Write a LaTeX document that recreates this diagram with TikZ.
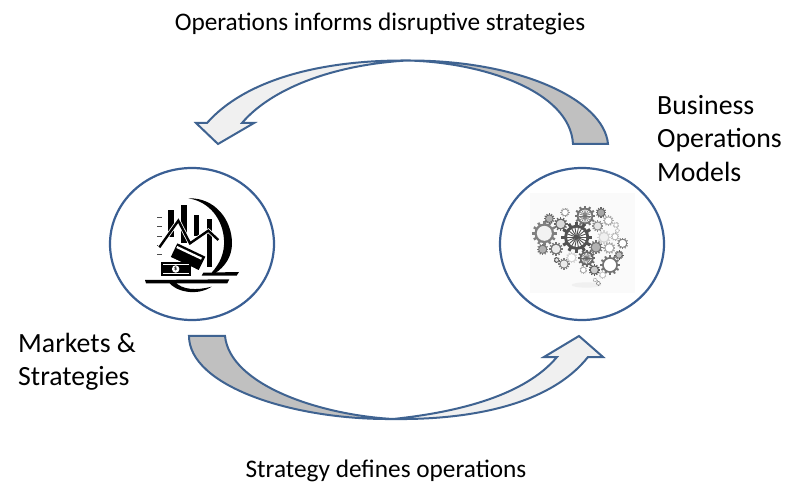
\documentclass[tikz,border=0pt]{standalone}
\usepackage{fontspec}
\setmainfont{Carlito}
\usetikzlibrary{shapes.geometric}
\definecolor{edgeblue}{HTML}{3F6391}
\definecolor{ringblue}{HTML}{3A5F94}
\definecolor{tailgrey}{HTML}{C0C0C0}
\definecolor{headgrey}{HTML}{F0F0F0}
% cx, cy, radius, gear colour, centre colour
\newcommand{\cogwheel}[5]{%
  \begin{scope}[shift={(#1,#2)}]
    \foreach \a in {0,30,...,330}
      \draw[#4,line width=#3*0.075pt] (\a:#3*0.75) -- (\a:#3*1.14);
    \fill[#4] (0,0) circle[radius=#3*0.92];
    \fill[#5] (0,0) circle[radius=#3*0.70];
  \end{scope}}
% the same, with spokes in the hub
\newcommand{\spokewheel}[4]{%
  \cogwheel{#1}{#2}{#3}{#4}{white}
  \begin{scope}[shift={(#1,#2)}]
    \foreach \a in {0,20,...,340}
      \draw[#4,line width=#3*0.022pt] (0,0) -- (\a:#3*0.72);
    \fill[#4] (0,0) circle[radius=#3*0.14];
  \end{scope}}
\tikzset{
  flowarrow/.style={draw=edgeblue,line width=2pt,line join=miter},
  loopcircle/.style={draw=ringblue,line width=2.2pt,ellipse,minimum width=164pt,minimum height=152pt,inner sep=0pt},
  caption/.style={font=\fontsize{25.3}{30}\selectfont,inner sep=0pt},
  sidelabel/.style={font=\fontsize{27.8}{33.4}\selectfont,inner sep=0pt,align=left,anchor=north west}
}
\begin{document}
\begin{tikzpicture}[x=1pt,y=-1pt]
\useasboundingbox (0,0) rectangle (800,502);
\fill[white] (0,0) rectangle (800,502);

% circles
\node[loopcircle] (markets) at (192,244) {};
\node[loopcircle] (business) at (582,244) {};

% top arrow
\fill[tailgrey] (608,144) .. controls (604,100) and (520,60) .. (407,60.5)
  .. controls (480,62) and (570,90) .. (573,144) -- cycle;
\fill[headgrey] (407,60.5) .. controls (320,60) and (245,80) .. (207,123) -- (196,123) -- (218,144) -- (254,123) -- (242,123)
  .. controls (270,90) and (330,65) .. (407,60.5) -- cycle;
\draw[flowarrow] (573,144) -- (608,144)
  .. controls (604,100) and (520,60) .. (407,60.5)
  .. controls (320,60) and (245,80) .. (207,123)
  -- (196,123) -- (218,144) -- (254,123) -- (242,123)
  .. controls (270,90) and (330,65) .. (407,60.5)
  .. controls (480,62) and (570,90) .. (573,144) -- cycle;

% bottom arrow
\fill[tailgrey] (189,336) .. controls (189,385) and (290,420) .. (393,419)
  .. controls (320,415) and (230,385) .. (225,336) -- cycle;
\fill[headgrey] (393,419) .. controls (470,420) and (550,405) .. (588,357) -- (603,357) -- (579,336) -- (544,357) -- (557,357)
  .. controls (525,395) and (460,412) .. (393,419) -- cycle;
\draw[flowarrow] (225,336) -- (189,336)
  .. controls (189,385) and (290,420) .. (393,419)
  .. controls (470,420) and (550,405) .. (588,357)
  -- (603,357) -- (579,336) -- (544,357) -- (557,357)
  .. controls (525,395) and (460,412) .. (393,419)
  .. controls (320,415) and (230,385) .. (225,336) -- cycle;

% finance icon, in 3x crop coordinates
\begin{scope}[shift={(100,160)},x=.33333pt,y=-.33333pt]
  \fill (265,115) .. controls (345,112) and (396,180) .. (396,250)
    .. controls (396,290) and (375,320) .. (345,340) -- (335,338)
    .. controls (360,310) and (374,280) .. (372,240)
    .. controls (369,180) and (330,125) .. (265,115) -- cycle;
  \fill (205,365) .. controls (225,395) and (290,410) .. (335,380)
    .. controls (290,392) and (245,390) .. (225,365) -- cycle;
  \fill (205,150) rectangle (222,232);
  \fill (243,135) rectangle (262,250);
  \fill (282,165) rectangle (298,228);
  \fill (320,178) rectangle (336,320);
  \foreach \yy in {173,201,229,257,285}
    \fill[black!70] (172,\yy-1.5) rectangle (186,\yy+1.5);
  \draw[white,line width=4pt] (178,262) -- (235,182) -- (270,250) -- (325,212) -- (355,240);
  \draw[black,line width=2.4pt] (178,262) -- (235,182) -- (270,250) -- (325,212) -- (355,240);
  % tilted banknotes
  \fill (232,250) -- (316,290) -- (296,330) -- (212,292) -- cycle;
  \fill[white] (232,258) -- (306,293) -- (303,299) -- (229,264) -- cycle;
  \fill[white] (205,288) -- (285,325) -- (290,332) -- (200,298) -- cycle;
  % flat banknote
  \fill (182,305) rectangle (272,347);
  \fill[white] (188,311) rectangle (266,314);
  \fill[white] (188,339) rectangle (266,342);
  \node[circle,fill=white,inner sep=0pt,minimum size=7.5pt,font=\fontsize{6}{6}\selectfont\bfseries] (dollar) at (227,327) {\$};
  \fill (135,360) -- (388,358) -- (382,370) -- (138,370) -- cycle;
  \fill (310,338) -- (417,336) -- (410,347) -- (305,347) -- cycle;
\end{scope}

% gear brain, in 3x crop coordinates
\begin{scope}[shift={(490,160)},x=.33333pt,y=-.33333pt]
  \fill[black!2] (120,100) rectangle (435,400);
  \fill[black!6] (290,375) ellipse[x radius=45,y radius=8];
  \cogwheel{163}{220}{32}{black!50}{black!5}
  \cogwheel{225}{157}{12}{black!40}{white}
  \cogwheel{178}{176}{14}{black!60}{black!30}
  \cogwheel{212}{192}{18}{black!60}{black!15}
  \cogwheel{333}{158}{14}{black!60}{black!35}
  \cogwheel{355}{182}{14}{black!35}{white}
  \cogwheel{323}{198}{15}{black!45}{black!10}
  \cogwheel{378}{195}{8}{black!25}{white}
  \cogwheel{342}{232}{18}{black!18}{black!6}
  \cogwheel{375}{230}{11}{black!30}{white}
  \cogwheel{398}{250}{15}{black!50}{white}
  \cogwheel{318}{262}{18}{black!55}{black!30}
  \cogwheel{358}{264}{16}{black!35}{white}
  \cogwheel{387}{285}{12}{black!65}{black!25}
  \cogwheel{360}{315}{26}{black!55}{white}
  \cogwheel{313}{330}{15}{black!65}{black!20}
  \cogwheel{280}{330}{10}{black!35}{white}
  \cogwheel{222}{312}{15}{black!50}{black!8}
  \cogwheel{200}{300}{8}{black!65}{black!10}
  \cogwheel{245}{293}{15}{black!18}{white}
  \cogwheel{198}{267}{18}{black!55}{black!8}
  \cogwheel{158}{268}{15}{black!55}{black!30}
  \cogwheel{338}{345}{10}{black!25}{white}
  \cogwheel{315}{360}{6}{black!35}{white}
  \cogwheel{325}{370}{6}{black!45}{white}
  \cogwheel{382}{212}{6}{black!25}{white}
  \spokewheel{285}{168}{27}{black!55}
  \spokewheel{290}{295}{23}{black!60}
  \spokewheel{260}{232}{41}{black!68}
\end{scope}

% labels
\node[caption] (topcaption) at (380,24) {Operations informs disruptive strategies};
\node[caption] (bottomcaption) at (386,471) {Strategy defines operations};
\node[sidelabel] (businesslabel) at (657,95) {Business\\Operations\\Models};
\node[sidelabel] (marketslabel) at (18,333) {Markets \&\\Strategies};
\end{tikzpicture}
\end{document}
